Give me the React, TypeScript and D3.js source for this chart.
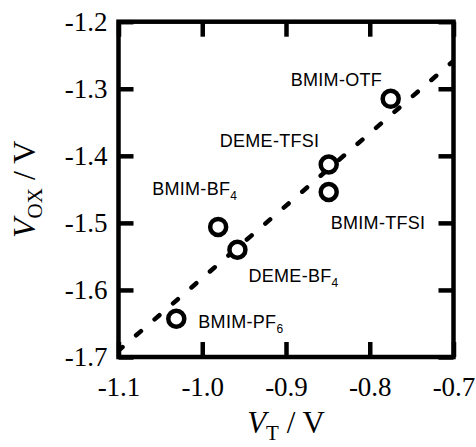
import React, { useEffect, useRef } from 'react';
import * as d3 from 'd3';

// electrolytes (label text + subscript)
const names = ['BMIM-OTF', 'DEME-TFSI', 'BMIM-TFSI', 'BMIM-BF', 'DEME-BF', 'BMIM-PF'];
const subs = ['', '', '', '4', '4', '6'];
// V_T / V
const vT = [-0.775, -0.849, -0.849, -0.981, -0.958, -1.031];
// V_OX / V
const vOX = [-1.315, -1.413, -1.454, -1.506, -1.540, -1.643];

// dashed fit line end points
const fitX = [-1.1, -0.7];
const fitY = [-1.6904, -1.2584];

const xTicks = [-1.1, -1.0, -0.9, -0.8, -0.7];
const yTicks = [-1.7, -1.6, -1.5, -1.4, -1.3, -1.2];

// label placement relative to the marker, px
const labelOffsets: [number, number][] = [
  [-100, -13],
  [-109, -18],
  [2, 37],
  [-66, -32],
  [11, 32],
  [22, 9],
];

const W = 476;
const H = 447;
const left = 118.5, right = 453.5, top = 21.7, bottom = 357;

const serif = '"Liberation Serif", "Times New Roman", Times, serif';
const sans = '"Liberation Sans", Arial, Helvetica, sans-serif';

export default function App() {
  const ref = useRef<SVGSVGElement>(null);

  useEffect(() => {
    const svg = d3.select(ref.current);
    svg.selectAll('*').remove();

    const x = d3.scaleLinear().domain([-1.1, -0.7]).range([left, right]);
    const y = d3.scaleLinear().domain([-1.7, -1.2]).range([bottom, top]);
    const fmt = (d: d3.NumberValue) => (+d).toFixed(1);

    const styleAxis = (g: any) => {
      g.select('.domain').remove();
      g.selectAll('.tick line').attr('stroke', '#000').attr('stroke-width', 4.5);
      g.selectAll('.tick text')
        .attr('fill', '#000')
        .style('font-family', serif)
        .style('font-size', '27px');
    };

    svg.append('g')
      .attr('transform', `translate(0,${bottom})`)
      .call(d3.axisBottom(x).tickValues(xTicks).tickFormat(fmt).tickSizeInner(-15).tickSizeOuter(0).tickPadding(20))
      .call(styleAxis);
    svg.append('g')
      .attr('transform', `translate(0,${top})`)
      .call(d3.axisTop(x).tickValues(xTicks).tickFormat(() => '').tickSizeInner(-15).tickSizeOuter(0))
      .call(styleAxis);
    svg.append('g')
      .attr('transform', `translate(${left},0)`)
      .call(d3.axisLeft(y).tickValues(yTicks).tickFormat(fmt).tickSizeInner(-15).tickSizeOuter(0).tickPadding(11))
      .call(styleAxis);
    svg.append('g')
      .attr('transform', `translate(${right},0)`)
      .call(d3.axisRight(y).tickValues(yTicks).tickFormat(() => '').tickSizeInner(-15).tickSizeOuter(0))
      .call(styleAxis);

    svg.append('clipPath').attr('id', 'plot-clip')
      .append('rect')
      .attr('x', left).attr('y', top)
      .attr('width', right - left).attr('height', bottom - top);

    const line = d3.line<number>().x(i => x(fitX[i])).y(i => y(fitY[i]));
    svg.append('path')
      .datum([0, 1])
      .attr('d', line)
      .attr('clip-path', 'url(#plot-clip)')
      .attr('fill', 'none')
      .attr('stroke', '#000')
      .attr('stroke-width', 4.5)
      .attr('stroke-linecap', 'round')
      .attr('stroke-dasharray', '6.4 18')
      .attr('stroke-dashoffset', 1.1);

    svg.append('rect')
      .attr('x', left).attr('y', top)
      .attr('width', right - left).attr('height', bottom - top)
      .attr('fill', 'none')
      .attr('stroke', '#000')
      .attr('stroke-width', 4.5);

    svg.append('g')
      .selectAll('circle')
      .data(d3.range(names.length))
      .join('circle')
      .attr('cx', i => x(vT[i]))
      .attr('cy', i => y(vOX[i]))
      .attr('r', 8)
      .attr('fill', '#fff')
      .attr('stroke', '#000')
      .attr('stroke-width', 4.5);

    const labels = svg.append('g')
      .selectAll('text')
      .data(d3.range(names.length))
      .join('text')
      .attr('x', i => x(vT[i]) + labelOffsets[i][0])
      .attr('y', i => y(vOX[i]) + labelOffsets[i][1])
      .attr('fill', '#000')
      .style('font-family', sans)
      .style('font-size', '18px')
      .style('letter-spacing', '0.3px');
    labels.append('tspan').text(i => names[i]);
    labels.filter(i => subs[i] !== '')
      .append('tspan')
      .attr('dy', 5)
      .style('font-size', '12px')
      .text(i => subs[i]);

    // axis titles
    const xt = svg.append('text')
      .attr('x', (left + right) / 2)
      .attr('y', 433)
      .attr('text-anchor', 'middle')
      .attr('fill', '#000')
      .style('font-family', serif)
      .style('font-size', '31px');
    xt.append('tspan').style('font-style', 'italic').text('V');
    xt.append('tspan').attr('dy', 7).style('font-size', '21px').text('T');
    xt.append('tspan').attr('dy', -7).text(' / V');

    const yt = svg.append('text')
      .attr('transform', `translate(35,${(top + bottom) / 2}) rotate(-90)`)
      .attr('text-anchor', 'middle')
      .attr('fill', '#000')
      .style('font-family', serif)
      .style('font-size', '32px');
    yt.append('tspan').style('font-style', 'italic').text('V');
    yt.append('tspan').attr('dy', 7).style('font-size', '21px').text('OX');
    yt.append('tspan').attr('dy', -7).text(' / V');
  }, []);

  return (
    <svg
      ref={ref}
      width={W}
      height={H}
      style={{ position: 'absolute', left: 0, top: 0, background: '#fff' }}
    />
  );
}
